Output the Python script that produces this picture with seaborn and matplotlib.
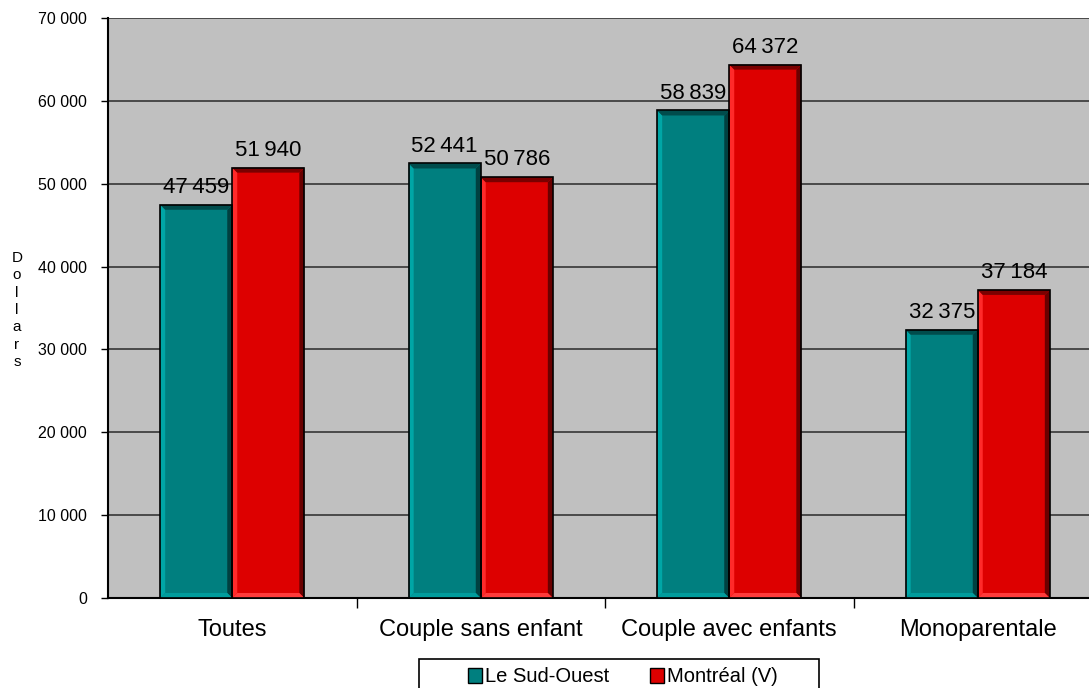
import pandas as pd
import seaborn as sns
import matplotlib.pyplot as plt
from matplotlib.patches import Patch, Polygon, Rectangle

# values
categories = ['Toutes', 'Couple sans enfant', 'Couple avec enfants', 'Monoparentale']
sud_ouest = [47459, 52441, 58839, 32375]
montreal = [51940, 50786, 64372, 37184]
series = ['Le Sud-Ouest', 'Montréal (V)']
colors = ['#007F7F', '#DD0000']
# bevel shades: top, left, right, bottom
bevels = [['#004C4C', '#00A6A6', '#004040', '#009C9C'],
          ['#7A0000', '#FF2A2A', '#6A0000', '#FF3A3A']]

df = pd.DataFrame({
    'Type': categories * 2,
    'Revenu': sud_ouest + montreal,
    'Zone': [series[0]] * 4 + [series[1]] * 4,
})

sns.set_style('white')
plt.rcParams['font.family'] = ['Liberation Sans', 'DejaVu Sans']
plt.rcParams['text.color'] = 'black'
plt.rcParams['xtick.color'] = 'black'
plt.rcParams['ytick.color'] = 'black'

fig = plt.figure(figsize=(10.89, 6.88), dpi=100)
ax = fig.add_axes([108 / 1089, 90 / 688, 994 / 1089, 580 / 688])
ax.set_facecolor('#C0C0C0')

sns.barplot(data=df, x='Type', y='Revenu', hue='Zone', order=categories,
            hue_order=series, palette=colors, width=0.58, edgecolor='none',
            linewidth=0, saturation=1, legend=False, ax=ax, zorder=3)

ax.set_xlim(-0.5, 3.5)
ax.set_ylim(0, 70000)

# 3d-ish bevel on each bar, sized from the bar geometry
bx = 5 * 4 / 994        # ~5 px in x data units
by = 5 * 70000 / 580    # ~5 px in y data units
for cont, shades in zip(ax.containers, bevels):
    for bar in cont:
        x0, y0 = bar.get_x(), bar.get_y()
        x1, y1 = x0 + bar.get_width(), y0 + bar.get_height()
        top = [(x0, y1), (x1, y1), (x1 - bx, y1 - by), (x0 + bx, y1 - by)]
        left = [(x0, y0), (x0, y1), (x0 + bx, y1 - by), (x0 + bx, y0 + by)]
        right = [(x1, y0), (x1, y1), (x1 - bx, y1 - by), (x1 - bx, y0 + by)]
        bottom = [(x0, y0), (x1, y0), (x1 - bx, y0 + by), (x0 + bx, y0 + by)]
        for pts, c in zip([left, right, bottom, top], [shades[1], shades[2], shades[3], shades[0]]):
            ax.add_patch(Polygon(pts, closed=True, facecolor=c, edgecolor='none', zorder=3.5))
        ax.add_patch(Rectangle((x0, y0), x1 - x0, y1 - y0, fill=False,
                               edgecolor='black', linewidth=1.2, zorder=4))

# labels above the bars
for cont in ax.containers:
    labels = [f"{int(v):,}".replace(',', '\u2009') for v in cont.datavalues]
    ax.bar_label(cont, labels=labels, padding=5, fontsize=16)

ax.set_yticks(range(0, 70001, 10000))
ax.set_yticklabels([f"{v:,}".replace(',', ' ') for v in range(0, 70001, 10000)], fontsize=11.5)
ax.yaxis.grid(True, color='#404040', linewidth=1.3, zorder=0)
ax.set_axisbelow(True)
ax.tick_params(axis='y', length=5, width=1, left=True, pad=10)

# category labels without ticks, boundary ticks as minor ticks
ax.set_xticks(range(4))
ax.set_xticklabels(categories, fontsize=17)
ax.set_xticks([0.5, 1.5, 2.5], minor=True)
ax.tick_params(axis='x', which='major', length=0, pad=15)
ax.tick_params(axis='x', which='minor', length=7, width=1, bottom=True)
ax.set_xlabel('')
ax.set_ylabel('')

for side in ['top', 'right']:
    ax.spines[side].set_visible(False)
for side in ['left', 'bottom']:
    ax.spines[side].set_color('black')
    ax.spines[side].set_linewidth(1.5)

# vertical stacked axis title
fig.text(17 / 1089, 1 - 310 / 688, '\n'.join('Dollars'), ha='center', va='center',
         fontsize=11, linespacing=1.3)

# legend box drawn separately (it is wider than its content)
fig.patches.append(Rectangle((419 / 1089, -0.02), 400 / 1089, 29 / 688 + 0.02,
                             transform=fig.transFigure, fill=False,
                             edgecolor='black', linewidth=1.2))
handles = [Patch(facecolor=c, edgecolor='black', label=s) for c, s in zip(colors, series)]
fig.legend(handles=handles, loc='center', bbox_to_anchor=(623 / 1089, 1 - 677 / 688),
           ncol=2, fontsize=14.5, frameon=False,
           handlelength=0.7, handleheight=0.7, handletextpad=0.15, columnspacing=2.0,
           borderpad=0, borderaxespad=0)

fig.savefig('out.png', dpi=100)
